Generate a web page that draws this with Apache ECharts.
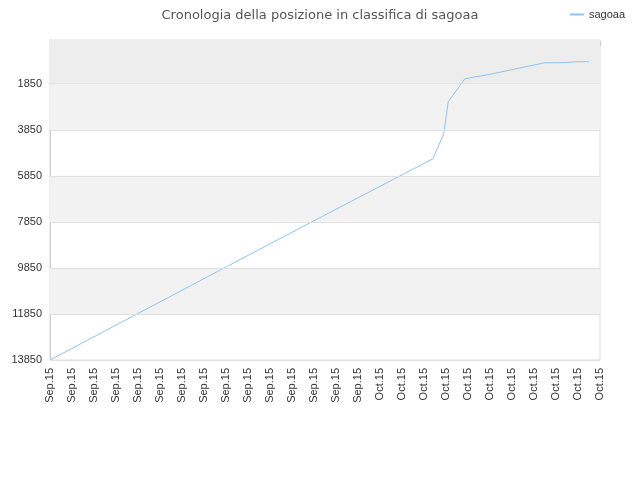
<!DOCTYPE html><html><head><meta charset="utf-8"><script src="https://cdn.jsdelivr.net/npm/echarts@6/dist/echarts.min.js"></script></head><body style="margin:0"><div id="c" style="width:640px;height:480px"></div><script>
const xLabels=["Sep.15","Sep.15","Sep.15","Sep.15","Sep.15","Sep.15","Sep.15","Sep.15","Sep.15","Sep.15","Sep.15","Sep.15","Sep.15","Sep.15","Sep.15","Oct.15","Oct.15","Oct.15","Oct.15","Oct.15","Oct.15","Oct.15","Oct.15","Oct.15","Oct.15","Oct.15"];
const xPos=[0,4,8,12,17.4,17.9,18.1,18.86,20,22.5,23.2,24,24.5];
const ranks=[13850,11830,9810,7800,5111,4024,2633,1633,1440,937,937,893,893];
const yTicks=[1850,3850,5850,7850,9850,11850,13850];
const c=echarts.init(document.getElementById('c'));
c.setOption({animation:false,
title:{text:'Cronologia della posizione in classifica di sagoaa',left:'center',top:4,textStyle:{fontSize:13,fontWeight:'normal',color:'#555',fontFamily:'DejaVu Sans'}},
legend:{right:10,top:4,data:['sagoaa'],textStyle:{fontSize:11,color:'#333'},itemWidth:14,itemHeight:2},
grid:{left:50,right:40,top:40,bottom:120,show:true,borderColor:'#ddd',borderWidth:1,backgroundColor:'transparent'},
xAxis:{type:'value',min:0,max:25,interval:1,axisLine:{lineStyle:{color:'#ccc'}},axisTick:{show:true,lineStyle:{color:'#ccc'}},splitLine:{show:false},
 axisLabel:{rotate:90,fontSize:11,color:'#333',formatter:v=>xLabels[v]||''}},
yAxis:{type:'value',inverse:true,min:-50,max:13850,splitLine:{show:false},axisLine:{show:true,lineStyle:{color:'#ccc'}},axisTick:{show:false},
 axisLabel:{fontSize:11,color:'#333',customValues:yTicks,formatter:v=>String(v)}},
series:[{name:'sagoaa',type:'line',symbol:'none',data:xPos.map((x,i)=>[x,ranks[i]]),lineStyle:{color:'#90c3f0',width:1},itemStyle:{color:'#90c3f0'},
 markArea:{silent:true,itemStyle:{color:'#f2f2f2'},data:[[{yAxis:-50,itemStyle:{color:'#ededed'}},{yAxis:1850}],[{yAxis:1850},{yAxis:3850}],[{yAxis:5850},{yAxis:7850}],[{yAxis:9850},{yAxis:11850}]]},
 markLine:{silent:true,symbol:'none',label:{show:false},lineStyle:{color:'#e0e0e0',type:'solid',width:1},data:yTicks.map(v=>({yAxis:v}))}}]});
</script></body></html>
